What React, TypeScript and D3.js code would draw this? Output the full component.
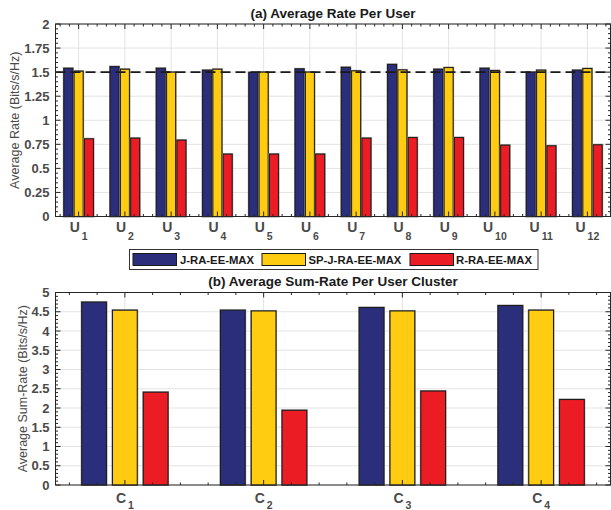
import React from "react";
import * as d3 from "d3";

const users = ["1","2","3","4","5","6","7","8","9","10","11","12"];
const jraUser = [1.54,1.557,1.54,1.52,1.497,1.534,1.55,1.58,1.53,1.54,1.50,1.52];
const spUser = [1.51,1.53,1.50,1.53,1.50,1.50,1.513,1.523,1.547,1.516,1.52,1.537];
const rraUser = [0.807,0.814,0.793,0.648,0.648,0.648,0.814,0.82,0.82,0.741,0.734,0.745];

const clusters = ["1","2","3","4"];
const jraCluster = [4.75,4.54,4.61,4.66];
const spCluster = [4.54,4.52,4.52,4.54];
const rraCluster = [2.41,1.94,2.44,2.22];

const seriesNames = ["J-RA-EE-MAX","SP-J-RA-EE-MAX","R-RA-EE-MAX"];
const colors = ["#2B2E7B","#FFCC12","#EC1C24"];
const yTicksTop = [0,0.25,0.5,0.75,1,1.25,1.5,1.75,2];
const yTicksBot = [0,0.5,1,1.5,2,2.5,3,3.5,4,4.5,5];

const FONT = "'Liberation Sans', Arial, sans-serif";
const AX = "#262626";
const TXT = "#4a4a4a";

type PanelProps = {
  cats: string[]; letter: string; series: number[][]; yMax: number; yTicks: number[];
  yMinor: number; top: number; bottom: number; barW: number; offPx: number; title: string; yLabel: string;
  titleY: number; dashed?: number; xLabelY: number; subDy: number; yLabelX: number;
};

function Panel(p: PanelProps) {
  const L = 55.5, R = 610.5;
  const n = p.cats.length;
  const x = d3.scaleLinear().domain([0.5, n + 0.5]).range([L, R]);
  const y = d3.scaleLinear().domain([0, p.yMax]).range([p.bottom, p.top]);
  const xMinor = d3.range(0.6, n + 0.5, 0.2).filter(v => Math.abs(v - Math.round(v)) > 0.01);
  const yMinor = d3.range(0, p.yMax + 1e-9, p.yMinor).filter(v => !p.yTicks.some(t => Math.abs(t - v) < 1e-6));
  const els: any[] = [];
  p.yTicks.forEach((t, i) => els.push(<line key={"gy"+i} x1={L} x2={R} y1={y(t)} y2={y(t)} stroke="#e3e3e3" strokeWidth={1} />));
  p.cats.forEach((c, i) => els.push(<line key={"gx"+i} x1={x(i+1)} x2={x(i+1)} y1={p.top} y2={p.bottom} stroke="#e3e3e3" strokeWidth={1} />));
  p.series.forEach((s, si) => {
    s.forEach((v, i) => {
      const cx = x(i + 1) + (si - 1) * p.offPx;
      els.push(<rect key={`b${si}-${i}`} x={cx - p.barW / 2} y={y(v)} width={p.barW} height={y(0) - y(v)}
        fill={colors[si]} stroke="#8a8a8a" strokeWidth={2} />);
      els.push(<rect key={`bb${si}-${i}`} x={cx - p.barW / 2} y={y(v)} width={p.barW} height={y(0) - y(v)}
        fill={colors[si]} stroke="#1a1a1a" strokeWidth={1} />);
    });
  });
  if (p.dashed !== undefined) {
    els.push(<line key="dash" x1={L} x2={R} y1={y(p.dashed)} y2={y(p.dashed)} stroke="#1a1a1a" strokeWidth={1.6} strokeDasharray="10,5" />);
  }
  els.push(<rect key="box" x={L} y={p.top} width={R - L} height={p.bottom - p.top} fill="none" stroke={AX} strokeWidth={1} />);
  p.yTicks.forEach((t, i) => {
    els.push(<line key={"ytl"+i} x1={L} x2={L + 5} y1={y(t)} y2={y(t)} stroke={AX} />);
    els.push(<line key={"ytr"+i} x1={R} x2={R - 5} y1={y(t)} y2={y(t)} stroke={AX} />);
    els.push(<text key={"ytx"+i} x={L - 6} y={y(t)} dy="0.35em" textAnchor="end" fontFamily={FONT} fontWeight="bold" fontSize={13} fill={TXT}>{String(t)}</text>);
  });
  yMinor.forEach((t, i) => {
    els.push(<line key={"yml"+i} x1={L} x2={L + 2.5} y1={y(t)} y2={y(t)} stroke={AX} />);
    els.push(<line key={"ymr"+i} x1={R} x2={R - 2.5} y1={y(t)} y2={y(t)} stroke={AX} />);
  });
  p.cats.forEach((c, i) => {
    const xx = x(i + 1);
    els.push(<line key={"xtb"+i} x1={xx} x2={xx} y1={p.bottom} y2={p.bottom - 5} stroke={AX} />);
    els.push(<line key={"xtt"+i} x1={xx} x2={xx} y1={p.top} y2={p.top + 5} stroke={AX} />);
    els.push(<text key={"xtx"+i} x={xx} y={p.xLabelY} textAnchor="middle" fontFamily={FONT} fontWeight="bold" fontSize={14} fill={TXT}>
      {p.letter}<tspan fontSize={10.5} dx={2} dy={p.subDy}>{c}</tspan></text>);
  });
  xMinor.forEach((t, i) => {
    els.push(<line key={"xmb"+i} x1={x(t)} x2={x(t)} y1={p.bottom} y2={p.bottom - 2.5} stroke={AX} />);
    els.push(<line key={"xmt"+i} x1={x(t)} x2={x(t)} y1={p.top} y2={p.top + 2.5} stroke={AX} />);
  });
  els.push(<text key="title" x={333} y={p.titleY} textAnchor="middle" fontFamily={FONT} fontWeight="bold" fontSize={13.5} fill="#1a1a1a">{p.title}</text>);
  const cy = (p.top + p.bottom) / 2;
  els.push(<text key="ylab" transform={`translate(${p.yLabelX},${cy}) rotate(-90)`} textAnchor="middle" fontFamily={FONT} fontSize={12.5} fill={TXT}>{p.yLabel}</text>);
  return <g>{els}</g>;
}

export default function App() {
  const legendX = [133, 262, 410];
  const legendTextX = [180, 308.5, 456];
  return (
    <svg width={611} height={510} style={{ position: "absolute", left: 0, top: 0, background: "#fff" }}>
      <rect x={0} y={0} width={611} height={510} fill="#fff" />
      <Panel cats={users} letter="U" series={[jraUser, spUser, rraUser]} yMax={2} yTicks={yTicksTop} yMinor={0.05}
        top={24} bottom={216.5} barW={9} offPx={10.3} title="(a) Average Rate Per User" yLabel="Average Rate (Bits/s/Hz)"
        titleY={18} dashed={1.5} xLabelY={232} subDy={8} yLabelX={18.5} />
      <Panel cats={clusters} letter="C" series={[jraCluster, spCluster, rraCluster]} yMax={5} yTicks={yTicksBot} yMinor={0.1}
        top={292.5} bottom={485} barW={24.7} offPx={30.8} title="(b) Average Sum-Rate Per User Cluster" yLabel="Average Sum-Rate (Bits/s/Hz)"
        titleY={286} xLabelY={503} subDy={6} yLabelX={26.5} />
      <g>
        <rect x={129.5} y={249.5} width={408.5} height={20} fill="#fff" stroke="#333" strokeWidth={1} />
        {seriesNames.map((s, i) => (
          <g key={s}>
            <rect x={legendX[i]} y={253.5} width={43.5} height={12} fill={colors[i]} stroke="#1a1a1a" strokeWidth={1} />
            <text x={legendTextX[i]} y={264} fontFamily={FONT} fontWeight="bold" fontSize={11.3} fill="#1a1a1a">{s}</text>
          </g>
        ))}
      </g>
    </svg>
  );
}
